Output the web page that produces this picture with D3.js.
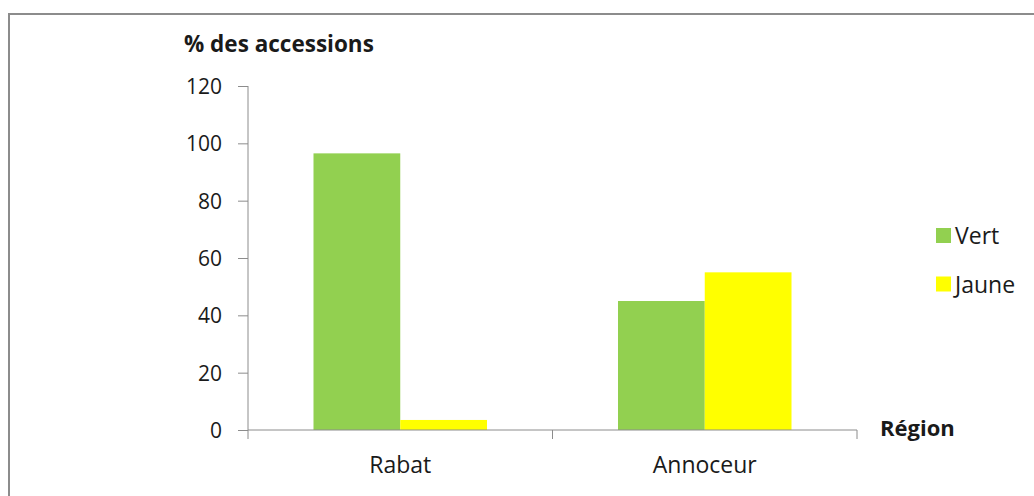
<!DOCTYPE html>
<html>
<head>
<meta charset="utf-8">
<script src="https://cdn.jsdelivr.net/npm/d3@7"></script>
<style>
  html, body { margin: 0; padding: 0; background: #fff; }
  svg { display: block; }
  text { font-family: "Open Sans", "DejaVu Sans", sans-serif; fill: #1a1a1a; }
</style>
</head>
<body>
<svg id="chart" width="1034" height="496"></svg>
<script>
// Data
const regions = ["Rabat", "Annoceur"];
const seriesNames = ["Vert", "Jaune"];
const vert = [96.5, 45];
const jaune = [3.5, 55];
const yTicks = [0, 20, 40, 60, 80, 100, 120];
const colors = ["#92d050", "#ffff00"];

const svg = d3.select("#chart");

// Chart frame (top and left edges visible)
svg.append("path")
  .attr("d", "M9,600 V14 H1040")
  .attr("fill", "none")
  .attr("stroke", "#8c8c8c")
  .attr("stroke-width", 2);

const plot = { left: 248, right: 857, top: 86, bottom: 430 };

const x0 = d3.scaleBand()
  .domain(regions)
  .range([plot.left, plot.right])
  .paddingInner(0)
  .paddingOuter(0);

const x1 = d3.scaleBand()
  .domain(seriesNames)
  .range([0, x0.bandwidth()])
  .paddingInner(0)
  .paddingOuter(0.755);

const y = d3.scaleLinear().domain([0, 120]).range([plot.bottom, plot.top]);

const rows = regions.map((r, i) => ({ region: r, values: [vert[i], jaune[i]] }));

// Bars
const groups = svg.append("g").selectAll("g")
  .data(rows)
  .join("g")
  .attr("transform", d => `translate(${x0(d.region)},0)`);

groups.selectAll("rect")
  .data(d => d.values.map((v, j) => ({ name: seriesNames[j], value: v, color: colors[j] })))
  .join("rect")
  .attr("x", d => x1(d.name))
  .attr("width", x1.bandwidth())
  .attr("y", d => y(d.value))
  .attr("height", d => y(0) - y(d.value))
  .attr("fill", d => d.color);

// Y axis
const yAxis = svg.append("g")
  .attr("transform", `translate(${plot.left},0)`)
  .call(d3.axisLeft(y).tickValues(yTicks).tickSize(10).tickPadding(16));
yAxis.select(".domain").attr("stroke", "#8c8c8c").attr("d", `M0,${plot.top}V${plot.bottom}`);
yAxis.selectAll(".tick line").attr("stroke", "#8c8c8c");
yAxis.selectAll(".tick text")
  .attr("font-size", 21)
  .style("font-family", "'Open Sans', sans-serif")
  .attr("fill", "#1a1a1a")
  .attr("dy", "0.36em");

// X axis: line with boundary ticks between categories
const xAxisG = svg.append("g");
xAxisG.append("line")
  .attr("x1", plot.left).attr("x2", plot.right)
  .attr("y1", plot.bottom).attr("y2", plot.bottom)
  .attr("stroke", "#8c8c8c");
const bounds = regions.map(r => x0(r)).concat([x0(regions[regions.length - 1]) + x0.bandwidth()]);
xAxisG.selectAll("line.tk")
  .data(bounds)
  .join("line")
  .attr("class", "tk")
  .attr("x1", d => d).attr("x2", d => d)
  .attr("y1", plot.bottom).attr("y2", plot.bottom + 9)
  .attr("stroke", "#8c8c8c");
xAxisG.selectAll("text")
  .data(regions)
  .join("text")
  .attr("x", d => x0(d) + x0.bandwidth() / 2)
  .attr("y", 473)
  .attr("text-anchor", "middle")
  .attr("font-size", 23)
  .text(d => d);

// Axis titles
svg.append("text")
  .attr("x", 184).attr("y", 52)
  .attr("font-size", 22.5)
  .attr("font-weight", "bold")
  .text("% des accessions");

svg.append("text")
  .attr("x", 880).attr("y", 436)
  .attr("font-size", 22)
  .attr("font-weight", "bold")
  .text("Région");

// Legend
const legend = svg.append("g").selectAll("g")
  .data(seriesNames)
  .join("g")
  .attr("transform", (d, i) => `translate(936,${228 + i * 48.5})`);
legend.append("rect")
  .attr("width", 15).attr("height", 15)
  .attr("fill", (d, i) => colors[i]);
legend.append("text")
  .attr("x", 19).attr("y", 8)
  .attr("dy", "0.36em")
  .attr("font-size", 23)
  .text(d => d);
</script>
</body>
</html>
